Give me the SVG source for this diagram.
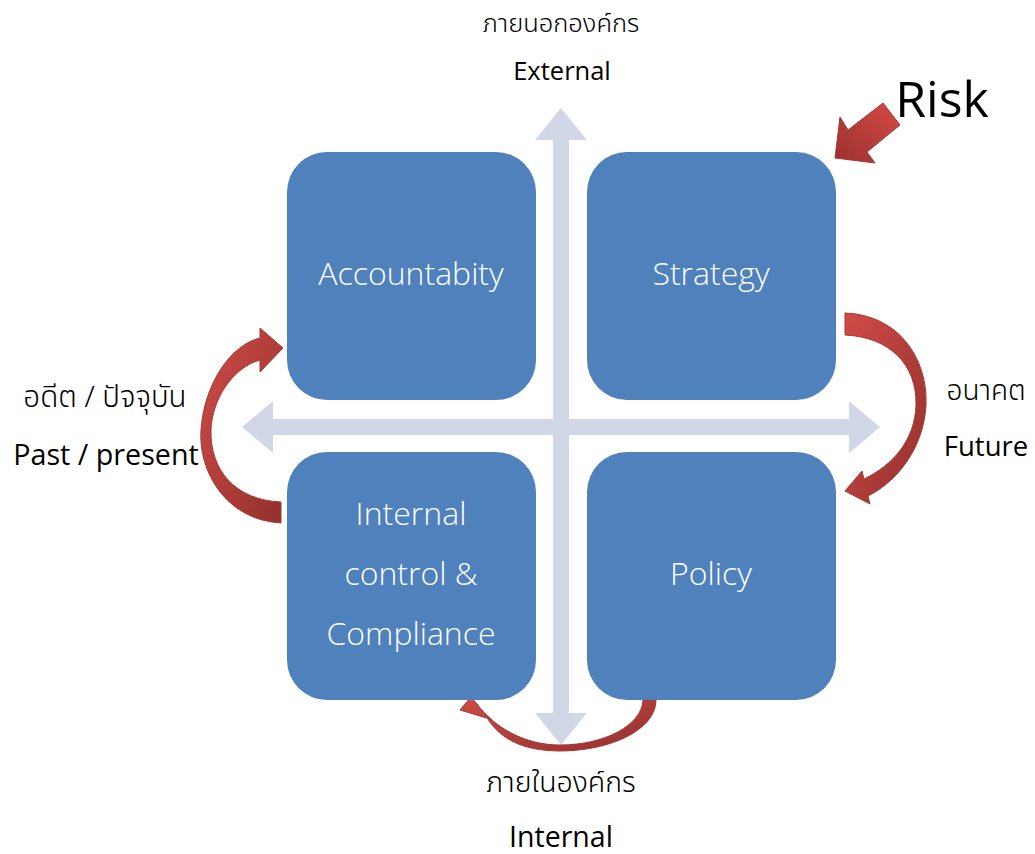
<svg xmlns="http://www.w3.org/2000/svg" width="1035" height="854" viewBox="0 0 1035 854">
<defs>
<style>
.box{fill:#4F81BD}
.bt{font-family:"Open Sans","Noto Sans",sans-serif;font-size:32px;font-weight:300;fill:#FFFFFF;text-anchor:middle}
.lbl{font-family:"Open Sans","Noto Sans",sans-serif;fill:#000000;text-anchor:middle}
.th{font-family:"Noto Sans Thai","Noto Sans","DejaVu Sans",sans-serif;font-weight:300;fill:#000000;text-anchor:middle}
.cross{fill:#D0D8E8}
.red{fill:url(#rg);stroke:#A33A37;stroke-width:1}
</style>
<linearGradient id="rg" x1="0" y1="0" x2="1" y2="1">
<stop offset="0" stop-color="#D04B47"/>
<stop offset="1" stop-color="#93302D"/>
</linearGradient>
<linearGradient id="rg2" x1="1" y1="0" x2="0" y2="1">
<stop offset="0" stop-color="#D64B46"/>
<stop offset="1" stop-color="#9A302D"/>
</linearGradient>
</defs>
<rect width="1035" height="854" fill="#FFFFFF"/>
<g id="connectors">
<polygon id="axis-v" class="cross" points="561,108 587,140 569,140 569,713 587,713 561,745 535,713 553,713 553,140 535,140"/>
<polygon id="axis-h" class="cross" points="242,427 273,401 273,419 849,419 849,401 880,427 849,453 849,435 273,435 273,453"/>
<path id="arrow-left" class="red" d="M281,523 C225,520 198,470 201,430 C204,385 230,345 260,338 L260,328 L283,348 L260,372 L260,360 C232,368 212,400 211,430 C210,470 235,500 281,502 Z"/>
<path id="arrow-right" class="red" d="M845,313 C900,315 928,360 926,405 C924,445 900,480 868,496 L870,504 L845,491 L862,471 L864,479 C893,465 915,440 916,405 C917,365 890,337 845,335 Z"/>
<path id="arrow-bottom" class="red" d="M656,700 C656,730 610,751 560,751 C520,751 497,737 485,714 L490,719 L460,710 L471,697 L477,704 C495,728 525,745 560,745 C605,745 642,725 643,700 Z"/>
<polygon id="arrow-risk" fill="url(#rg2)" stroke="#A33A37" stroke-width="1" points="883,103 900,125 867,152 875,163 835,158 840,117 848,130"/>
</g>
<g id="node-accountability">
<rect class="box" x="287" y="152" width="249" height="248" rx="40"/>
<text class="bt" x="411" y="285">Accountabity</text>
</g>
<g id="node-strategy">
<rect class="box" x="587" y="152" width="249" height="248" rx="40"/>
<text class="bt" x="711" y="285">Strategy</text>
</g>
<g id="node-internal">
<rect class="box" x="287" y="452" width="249" height="248" rx="40"/>
<text class="bt" x="411" y="525">Internal</text>
<text class="bt" x="411" y="585">control &amp;</text>
<text class="bt" x="411" y="645">Compliance</text>
</g>
<g id="node-policy">
<rect class="box" x="587" y="452" width="249" height="248" rx="40"/>
<text class="bt" x="711" y="585">Policy</text>
</g>
<g id="labels">
<text class="th" x="561" y="32" style="font-size:25.5px">ภายนอกองค์กร</text>
<text class="lbl" x="562" y="80" style="font-size:25.5px">External</text>
<text class="th" x="561" y="792" style="font-size:28.5px">ภายในองค์กร</text>
<text class="lbl" x="561" y="847" style="font-size:28.5px">Internal</text>
<text class="th" x="105" y="407" style="font-size:29.5px">อดีต / ปัจจุบัน</text>
<text class="lbl" x="106" y="465" style="font-size:28.7px">Past / present</text>
<text class="th" x="986" y="400" style="font-size:28px">อนาคต</text>
<text class="lbl" x="986" y="456" style="font-size:27.5px">Future</text>
<text x="942" y="117" font-family="Open Sans,Noto Sans,sans-serif" font-size="50" fill="#000000" text-anchor="middle">Risk</text>
</g>
</svg>
